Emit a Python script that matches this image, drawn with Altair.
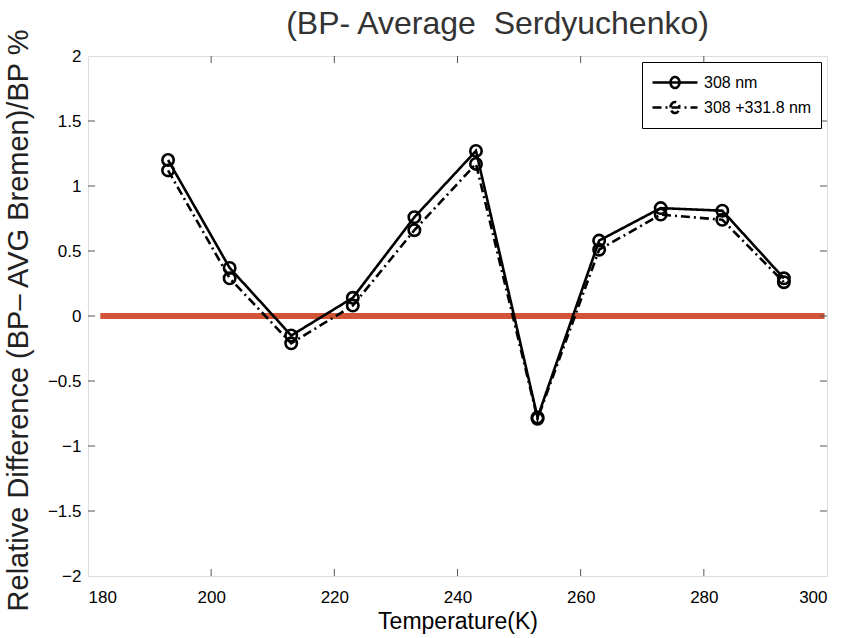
import altair as alt
import pandas as pd

temps = [193, 203, 213, 223, 233, 243, 253, 263, 273, 283, 293]
s308 = [1.20, 0.37, -0.15, 0.14, 0.76, 1.27, -0.78, 0.58, 0.83, 0.81, 0.29]
s308_331 = [1.12, 0.29, -0.21, 0.08, 0.66, 1.17, -0.79, 0.51, 0.78, 0.74, 0.26]
series_names = ["308 nm", "308 +331.8 nm"]
x_ticks = [180, 200, 220, 240, 260, 280, 300]
y_ticks = [-2, -1.5, -1, -0.5, 0, 0.5, 1, 1.5, 2]
zero_line_x = [182, 299.6]

rows = []
for name, vals in zip(series_names, [s308, s308_331]):
    for t, v in zip(temps, vals):
        rows.append({"T": t, "val": v, "series": name})
df = pd.DataFrame(rows)

W, H = 739, 520
REG = "'Liberation Sans', Arial, sans-serif"

xs = alt.Scale(domain=[180, 300], nice=False, zero=False)
ys = alt.Scale(domain=[-2, 2], nice=False)

xaxis = alt.Axis(values=x_ticks, format="d", tickSize=0, domain=False, grid=False,
                 labelPadding=13, labelFont=REG, labelFontSize=17, labelColor="black",
                 title="Temperature(K)", titleFont=REG, titleFontSize=23,
                 titleFontWeight="normal", titleColor="black", titlePadding=5)
yaxis = alt.Axis(values=y_ticks, format="~g", tickSize=0, domain=False, grid=False,
                 labelPadding=7, labelFont=REG, labelFontSize=17, labelColor="black",
                 title="Relative Difference (BP\u2013 AVG Bremen)/BP %", titleFont=REG,
                 titleFontSize=29, titleFontWeight="normal", titleColor="#222222",
                 titlePadding=14, titleY=264)

base = alt.Chart(df)

zero_df = pd.DataFrame({"T": [zero_line_x[0]], "T2": [zero_line_x[1]], "val": [0]})
zero = alt.Chart(zero_df).mark_rule(color="#d35336", strokeWidth=6).encode(
    x=alt.X("T:Q", scale=xs, axis=xaxis), x2="T2:Q",
    y=alt.Y("val:Q", scale=ys, axis=yaxis))

legend_path = ("M-1,0 L3.5,0 M0.8,0 A0.45,0.55 0 1,1 1.7,0 A0.45,0.55 0 1,1 0.8,0")

lines = base.mark_line(color="black", strokeWidth=2.6).encode(
    x=alt.X("T:Q", scale=xs),
    y=alt.Y("val:Q", scale=ys),
    strokeDash=alt.StrokeDash("series:N",
        scale=alt.Scale(domain=series_names, range=[[1, 0], [9, 4, 2, 4]]),
        legend=alt.Legend(title=None, orient="top-right", offset=6,
                          strokeColor="black", fillColor="white", padding=9,
                          labelFont=REG, labelFontSize=16, labelColor="black",
                          labelOffset=30, symbolType=legend_path, symbolSize=400,
                          symbolStrokeWidth=2.6, symbolStrokeColor="black",
                          symbolFillColor="transparent", rowPadding=2)),
    detail="series:N")

points = base.mark_point(shape="circle", filled=False, color="black", size=130,
                         strokeWidth=2.6, opacity=1).encode(
    x=alt.X("T:Q", scale=xs), y=alt.Y("val:Q", scale=ys))

xt_df = pd.DataFrame({"T": x_ticks[1:-1]})
yt_df = pd.DataFrame({"val": y_ticks[1:-1]})
tick_col = "#555555"
xt_bot = alt.Chart(xt_df).mark_rule(color=tick_col, strokeWidth=1).encode(
    x=alt.X("T:Q", scale=xs), y=alt.value(H), y2=alt.value(H - 7))
xt_top = alt.Chart(xt_df).mark_rule(color=tick_col, strokeWidth=1).encode(
    x=alt.X("T:Q", scale=xs), y=alt.value(0), y2=alt.value(7))
yt_left = alt.Chart(yt_df).mark_rule(color=tick_col, strokeWidth=1).encode(
    y=alt.Y("val:Q", scale=ys), x=alt.value(0), x2=alt.value(7))
yt_right = alt.Chart(yt_df).mark_rule(color=tick_col, strokeWidth=1).encode(
    y=alt.Y("val:Q", scale=ys), x=alt.value(W), x2=alt.value(W - 7))

chart = alt.layer(zero, xt_bot, xt_top, yt_left, yt_right, lines, points).properties(
    width=W, height=H,
    title=alt.TitleParams("(BP- Average\u00a0 Serdyuchenko)", font=REG, fontSize=32,
                          fontWeight="normal", color="#333333", anchor="middle",
                          frame="group", dx=40, dy=27, offset=14),
    autosize=alt.AutoSizeParams(type="none"),
    padding={"left": 88, "top": 56, "right": 25, "bottom": 62},
).configure_view(stroke="black", strokeWidth=1.5).configure(background="white")

chart.save("out.html", embed_options={"renderer": "svg", "actions": False})
